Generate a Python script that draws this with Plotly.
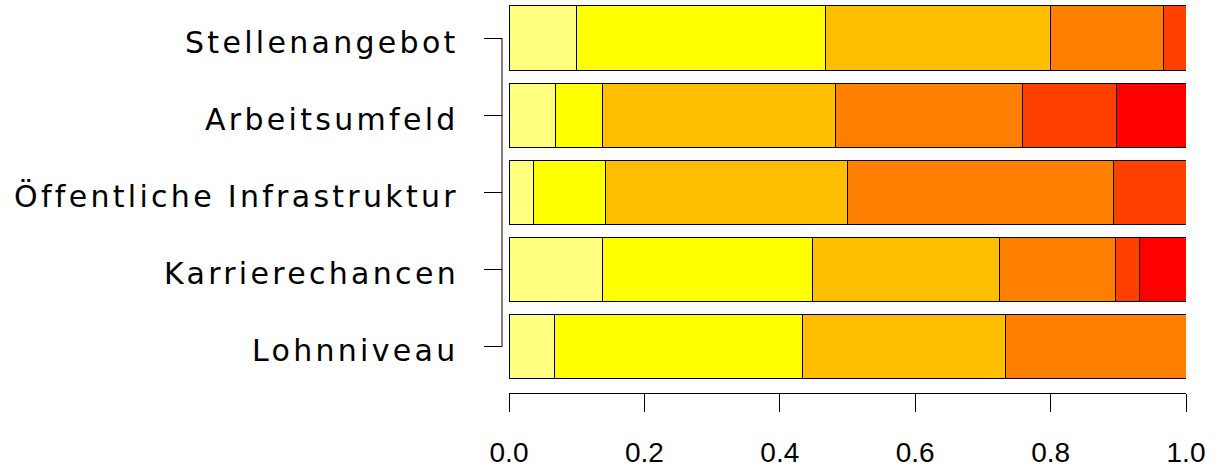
import plotly.graph_objects as go

categories = ["Lohnniveau", "Karrierechancen", "Öffentliche Infrastruktur",
              "Arbeitsumfeld", "Stellenangebot"]
# proportions per answer level (level 1 .. level 6), ordered as categories
level1 = [0.067, 0.138, 0.036, 0.069, 0.100]
level2 = [0.366, 0.310, 0.107, 0.069, 0.367]
level3 = [0.300, 0.276, 0.357, 0.345, 0.333]
level4 = [0.267, 0.172, 0.393, 0.276, 0.167]
level5 = [0.000, 0.035, 0.107, 0.138, 0.033]
level6 = [0.000, 0.069, 0.000, 0.103, 0.000]
levels = [level1, level2, level3, level4, level5, level6]
colors = ["#FFFF80", "#FFFF00", "#FFBF00", "#FF8000", "#FF4000", "#FF0000"]
x_ticks = [0.0, 0.2, 0.4, 0.6, 0.8, 1.0]

W, H = 1219, 468
ml, mr, mt, mb = 502, 33, 0, 72
plot_w = W - ml - mr

fig = go.Figure()
for vals, col in zip(levels, colors):
    fig.add_trace(go.Bar(
        y=categories, x=vals, orientation="h",
        marker=dict(color=col, line=dict(color="#000000", width=1)),
        width=0.833, showlegend=False, hoverinfo="skip"))

fig.update_layout(
    width=W, height=H,
    margin=dict(l=ml, r=mr, t=mt, b=mb, pad=0),
    barmode="stack",
    plot_bgcolor="white", paper_bgcolor="white",
    xaxis=dict(domain=[7 / plot_w, 1], range=[0, 1], tickvals=x_ticks,
               tickformat=".1f", ticks="outside", ticklen=18, tickwidth=1,
               tickcolor="#000000", showline=True, linecolor="#000000",
               linewidth=1, showgrid=False, zeroline=False,
               tickfont=dict(family="Liberation Sans", size=28, color="#000000"),
               ticklabelstandoff=16),
    yaxis=dict(type="category", categoryorder="array", categoryarray=categories,
               range=[-0.602, 4.493], anchor="free", position=0,
               tickmode="array", tickvals=categories, showticklabels=False,
               ticks="outside", ticklen=18, tickwidth=1, tickcolor="#000000",
               showline=False, showgrid=False, zeroline=False),
)
fig.add_shape(type="line", xref="paper", yref="y", x0=0, x1=0,
              y0=categories[0], y1=categories[-1],
              line=dict(color="#000000", width=1))

label_x = (461 - ml) / plot_w
for c in categories:
    fig.add_annotation(
        xref="paper", yref="y", x=label_x, y=c, xanchor="right",
        yanchor="middle", yshift=-4, showarrow=False,
        text='<span style="letter-spacing:3.3px">%s</span>' % c,
        font=dict(family="DejaVu Sans", size=30, color="#000000"))

fig.write_html("out.html",
               config={"displayModeBar": False},
               post_script="document.body.style.margin='0';")
